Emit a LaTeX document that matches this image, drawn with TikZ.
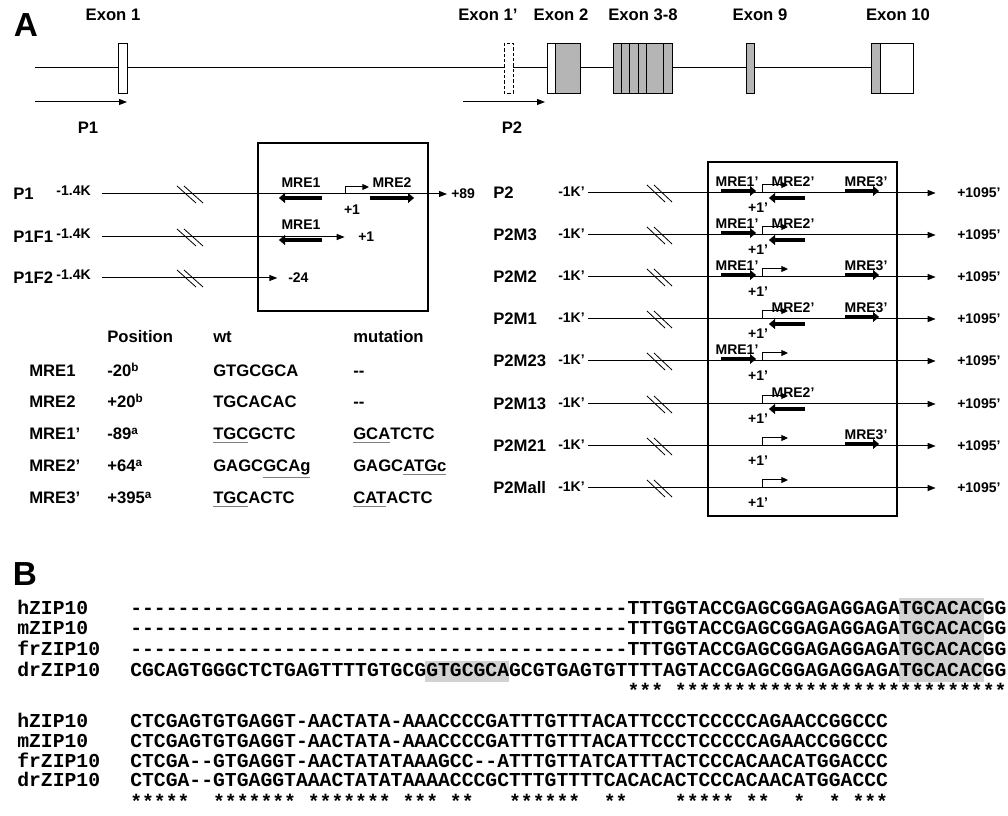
\documentclass[tikz,border=0pt]{standalone}
\usepackage{fontspec}
\setmainfont{Liberation Sans}
\setmonofont{Liberation Mono}
\usetikzlibrary{arrows.meta,positioning}
\newcommand{\gul}[1]{\textcolor{gray}{\underline{\textcolor{black}{#1}}}}

\begin{document}
\begin{tikzpicture}[x=0.75pt, y=-0.75pt,
    lab/.style={font=\fontsize{12.5}{14}\selectfont\bfseries, inner sep=0pt},
    small/.style={font=\fontsize{10.5}{12}\selectfont\bfseries, inner sep=0pt},
    big/.style={font=\fontsize{25}{28}\selectfont\bfseries, inner sep=0pt},
    seq/.style={font=\fontsize{14.8}{16}\ttfamily\bfseries, inner sep=0pt, anchor=base west},
    tab/.style={lab, anchor=base west},
    exon/.style={draw=black, line width=0.6pt, fill=white},
    cds/.style={draw=black, line width=0.6pt, fill=gray!58},
    dna/.style={line width=0.75pt, -{Triangle[length=6pt,width=4.5pt]}},
    tss/.style={line width=0.75pt, -{Triangle[length=5pt,width=4.5pt]}},
    brk/.style={line width=0.6pt},
    mre/.style={line width=3.6pt, -{Triangle[length=4.5pt,width=7.5pt,line width=0.3pt]}},
    frame/.style={draw=black, line width=1.8pt},
    hl/.style={fill=gray!35, draw=none}
]
\useasboundingbox (0,0) rectangle (1008,816);

% A: gene structure
\node[big] (A) at (26,25) {A};
\draw[line width=0.75pt] (35,68) -- (871,68);
\draw[exon] (118,43) rectangle (127,93);
\draw[exon, dash pattern=on 2.5pt off 1.5pt] (504,43) rectangle (513,93);
\draw[exon] (547,43) rectangle (555,93);
\draw[cds] (555,43) rectangle (580,93);
\draw[cds] (613,43) rectangle (672,93);
\foreach \x in {621,629,638,646,663} \draw[line width=0.6pt] (\x,43) -- (\x,93);
\draw[cds] (746,43) rectangle (754,93);
\draw[cds] (871,43) rectangle (880,93);
\draw[exon] (880,43) rectangle (913,93);

\node[lab] (ex1) at (113,15) {Exon 1};
\node[lab] (ex1p) at (488,15) {Exon 1'};
\node[lab] (ex2) at (561,15) {Exon 2};
\node[lab] (ex38) at (643,15) {Exon 3-8};
\node[lab] (ex9) at (760,15) {Exon 9};
\node[lab] (ex10) at (898,15) {Exon 10};

\coordinate (p1a) at (35,102);
\coordinate (p1b) at (127,102);
\coordinate (p2a) at (463,102);
\coordinate (p2b) at (545,102);
\draw[dna] (p1a) -- (p1b);
\draw[dna] (p2a) -- (p2b);
\node[lab] (P1lab) at (88,128) {P1};
\node[lab] (P2lab) at (512,128) {P2};

% P1 constructs
\draw[frame] (258,143) rectangle (428,311);

\node[lab, anchor=west] (r1) at (13,194) {P1};
\node[small, anchor=east] (r1s) at (91,191) {-1.4K};
\node[small, anchor=west] (r1e) at (451,194) {+89};
\draw[dna, shorten >=3pt] ([xshift=8pt]r1s.east |- r1.west) -- (r1e.west);
\draw[brk] (177,186) -- (196,203) (184,186) -- (203,203);
\node[small] (r1m1) at (301,183) {MRE1};
\draw[mre] (322,198) -- (279,198);
\node[small] (r1m2) at (392,183) {MRE2};
\draw[mre] (370,198) -- (414,198);
\draw[tss] (345,194) |- (369,187);
\node[small] (r1p) at (352,210) {+1};

\node[lab, anchor=west] (r2) at (13,237) {P1F1};
\node[small, anchor=east] (r2s) at (91,234) {-1.4K};
\node[small, anchor=west] (r2e) at (358,237) {+1};
\draw[dna, shorten >=10pt] ([xshift=8pt]r2s.east |- r2.west) -- (r2e.west);
\draw[brk] (177,229) -- (196,246) (184,229) -- (203,246);
\node[small] (r2m1) at (301,225) {MRE1};
\draw[mre] (322,240) -- (279,240);

\node[lab, anchor=west] (r3) at (13,278) {P1F2};
\node[small, anchor=east] (r3s) at (91,275) {-1.4K};
\node[small, anchor=west] (r3e) at (288,278) {-24};
\draw[dna, shorten >=8pt] ([xshift=8pt]r3s.east |- r3.west) -- (r3e.west);
\draw[brk] (177,270) -- (196,287) (184,270) -- (203,287);

% MRE table
\node[tab] (th1) at (107,343) {Position};
\node[tab] (th2) at (213,343) {wt};
\node[tab] (th3) at (353,343) {mutation};

\node[tab] (t1a) at (29,377) {MRE1};
\node[tab] (t1b) at (107,377) {-20\textsuperscript{b}};
\node[tab] (t1c) at (213,377) {GTGCGCA};
\node[tab] (t1d) at (353,377) {-{}-};

\node[tab] (t2a) at (29,408) {MRE2};
\node[tab] (t2b) at (107,408) {+20\textsuperscript{b}};
\node[tab] (t2c) at (213,408) {TGCACAC};
\node[tab] (t2d) at (353,408) {-{}-};

\node[tab] (t3a) at (29,440) {MRE1'};
\node[tab] (t3b) at (107,440) {-89\textsuperscript{a}};
\node[tab] (t3c) at (213,440) {\gul{TGC}GCTC};
\node[tab] (t3d) at (353,440) {\gul{GCA}TCTC};

\node[tab] (t4a) at (29,472) {MRE2'};
\node[tab] (t4b) at (107,472) {+64\textsuperscript{a}};
\node[tab] (t4c) at (213,472) {GAGC\gul{GCAg}};
\node[tab] (t4d) at (353,472) {GAGC\gul{ATGc}};

\node[tab] (t5a) at (29,504) {MRE3'};
\node[tab] (t5b) at (107,504) {+395\textsuperscript{a}};
\node[tab] (t5c) at (213,504) {\gul{TGC}ACTC};
\node[tab] (t5d) at (353,504) {\gul{CAT}ACTC};

% P2 constructs
\draw[frame] (708,162) rectangle (897,516);

\node[lab, anchor=west] (q1) at (493,193) {P2};
\node[small, anchor=east] (q1s) at (585,192) {-1K'};
\node[small, anchor=west] (q1e) at (957,193) {+1095'};
\draw[dna, shorten >=16pt] ([xshift=2pt]q1s.east |- q1.west) -- (q1e.west);
\draw[brk] (647,185) -- (665,202) (654,185) -- (672,202);
\node[small] (q1a) at (737,182) {MRE1'};
\draw[mre] (721,191) -- (756,191);
\node[small] (q1b) at (793,182) {MRE2'};
\draw[mre] (805,198) -- (769,198);
\node[small] (q1c) at (866,182) {MRE3'};
\draw[mre] (845,191) -- (879,191);
\draw[tss] (762,193) |- (788,185);
\node[small] (q1p) at (758,208) {+1'};

\node[lab, anchor=west] (q2) at (493,235) {P2M3};
\node[small, anchor=east] (q2s) at (585,234) {-1K'};
\node[small, anchor=west] (q2e) at (957,235) {+1095'};
\draw[dna, shorten >=16pt] ([xshift=2pt]q2s.east |- q2.west) -- (q2e.west);
\draw[brk] (647,227) -- (665,244) (654,227) -- (672,244);
\node[small] (q2a) at (737,224) {MRE1'};
\draw[mre] (721,233) -- (756,233);
\node[small] (q2b) at (793,224) {MRE2'};
\draw[mre] (805,240) -- (769,240);
\draw[tss] (762,235) |- (788,227);
\node[small] (q2p) at (758,250) {+1'};

\node[lab, anchor=west] (q3) at (493,277) {P2M2};
\node[small, anchor=east] (q3s) at (585,276) {-1K'};
\node[small, anchor=west] (q3e) at (957,277) {+1095'};
\draw[dna, shorten >=16pt] ([xshift=2pt]q3s.east |- q3.west) -- (q3e.west);
\draw[brk] (647,269) -- (665,286) (654,269) -- (672,286);
\node[small] (q3a) at (737,266) {MRE1'};
\draw[mre] (721,275) -- (756,275);
\node[small] (q3c) at (866,266) {MRE3'};
\draw[mre] (845,275) -- (879,275);
\draw[tss] (762,277) |- (788,269);
\node[small] (q3p) at (758,292) {+1'};

\node[lab, anchor=west] (q4) at (493,319) {P2M1};
\node[small, anchor=east] (q4s) at (585,318) {-1K'};
\node[small, anchor=west] (q4e) at (957,319) {+1095'};
\draw[dna, shorten >=16pt] ([xshift=2pt]q4s.east |- q4.west) -- (q4e.west);
\draw[brk] (647,311) -- (665,328) (654,311) -- (672,328);
\node[small] (q4b) at (793,308) {MRE2'};
\draw[mre] (805,324) -- (769,324);
\node[small] (q4c) at (866,308) {MRE3'};
\draw[mre] (845,317) -- (879,317);
\draw[tss] (762,319) |- (788,311);
\node[small] (q4p) at (758,334) {+1'};

\node[lab, anchor=west] (q5) at (493,361) {P2M23};
\node[small, anchor=east] (q5s) at (585,360) {-1K'};
\node[small, anchor=west] (q5e) at (957,361) {+1095'};
\draw[dna, shorten >=16pt] ([xshift=2pt]q5s.east |- q5.west) -- (q5e.west);
\draw[brk] (647,353) -- (665,370) (654,353) -- (672,370);
\node[small] (q5a) at (737,350) {MRE1'};
\draw[mre] (721,359) -- (756,359);
\draw[tss] (762,361) |- (788,353);
\node[small] (q5p) at (758,376) {+1'};

\node[lab, anchor=west] (q6) at (493,404) {P2M13};
\node[small, anchor=east] (q6s) at (585,403) {-1K'};
\node[small, anchor=west] (q6e) at (957,404) {+1095'};
\draw[dna, shorten >=16pt] ([xshift=2pt]q6s.east |- q6.west) -- (q6e.west);
\draw[brk] (647,396) -- (665,413) (654,396) -- (672,413);
\node[small] (q6b) at (793,393) {MRE2'};
\draw[mre] (805,409) -- (769,409);
\draw[tss] (762,404) |- (788,396);
\node[small] (q6p) at (758,419) {+1'};

\node[lab, anchor=west] (q7) at (493,446) {P2M21};
\node[small, anchor=east] (q7s) at (585,445) {-1K'};
\node[small, anchor=west] (q7e) at (957,446) {+1095'};
\draw[dna, shorten >=16pt] ([xshift=2pt]q7s.east |- q7.west) -- (q7e.west);
\draw[brk] (647,438) -- (665,455) (654,438) -- (672,455);
\node[small] (q7c) at (866,435) {MRE3'};
\draw[mre] (845,444) -- (879,444);
\draw[tss] (762,446) |- (788,438);
\node[small] (q7p) at (758,461) {+1'};

\node[lab, anchor=west] (q8) at (493,488) {P2Mall};
\node[small, anchor=east] (q8s) at (585,487) {-1K'};
\node[small, anchor=west] (q8e) at (957,488) {+1095'};
\draw[dna, shorten >=16pt] ([xshift=2pt]q8s.east |- q8.west) -- (q8e.west);
\draw[brk] (647,480) -- (665,497) (654,480) -- (672,497);
\draw[tss] (762,488) |- (788,480);
\node[small] (q8p) at (758,503) {+1'};

% B: alignment
\node[big] (B) at (25,574) {B};
\fill[hl] (425,661) rectangle (509,682);
\fill[hl] (899,598) rectangle (984,682);

\node[seq] (h1) at (17,615) {hZIP10};
\node[seq] (h1s) at (130,615) {------------------------------------------TTTGGTACCGAGCGGAGAGGAGATGCACACGG};
\node[seq] (m1) at (17,635) {mZIP10};
\node[seq] (m1s) at (130,635) {------------------------------------------TTTGGTACCGAGCGGAGAGGAGATGCACACGG};
\node[seq] (f1) at (17,656) {frZIP10};
\node[seq] (f1s) at (130,656) {------------------------------------------TTTGGTACCGAGCGGAGAGGAGATGCACACGG};
\node[seq] (d1) at (17,677) {drZIP10};
\node[seq] (d1s) at (130,677) {CGCAGTGGGCTCTGAGTTTTGTGCGGTGCGCAGCGTGAGTGTTTTAGTACCGAGCGGAGAGGAGATGCACACGG};
\node[seq] (c1) at (130,698) {\hphantom{------------------------------------------}***~****************************};

\node[seq] (h2) at (17,728) {hZIP10};
\node[seq] (h2s) at (130,728) {CTCGAGTGTGAGGT-AACTATA-AAACCCCGATTTGTTTACATTCCCTCCCCCAGAACCGGCCC};
\node[seq] (m2) at (17,748) {mZIP10};
\node[seq] (m2s) at (130,748) {CTCGAGTGTGAGGT-AACTATA-AAACCCCGATTTGTTTACATTCCCTCCCCCAGAACCGGCCC};
\node[seq] (f2) at (17,768) {frZIP10};
\node[seq] (f2s) at (130,768) {CTCGA--GTGAGGT-AACTATATAAAGCC--ATTTGTTATCATTTACTCCCACAACATGGACCC};
\node[seq] (d2) at (17,787) {drZIP10};
\node[seq] (d2s) at (130,787) {CTCGA--GTGAGGTAAACTATATAAAACCCGCTTTGTTTTCACACACTCCCACAACATGGACCC};
\node[seq] (c2) at (130,808) {*****~~*******~*******~***~**~~~******~~**~~~~*****~**~~*~~*~***};

\end{tikzpicture}
\end{document}
